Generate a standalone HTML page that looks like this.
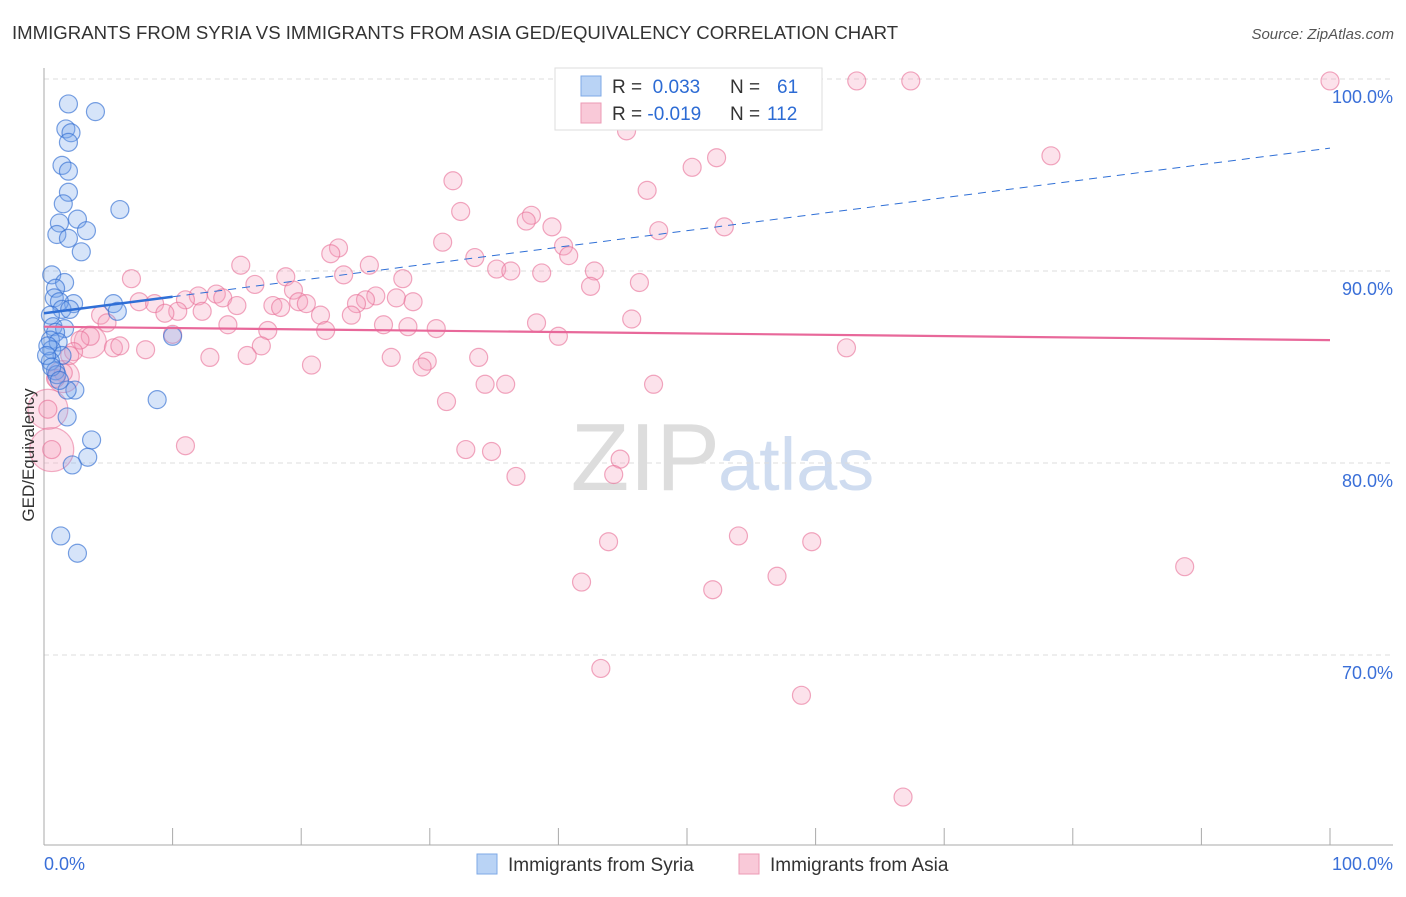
<!DOCTYPE html>
<html><head><meta charset="utf-8"><style>
body{margin:0;background:#fff;font-family:"Liberation Sans",sans-serif}
svg text{font-family:"Liberation Sans",sans-serif}
</style></head><body>
<svg id="c" width="1406" height="892" xmlns="http://www.w3.org/2000/svg">
<text x="12" y="39" font-size="18.6" fill="#333">IMMIGRANTS FROM SYRIA VS IMMIGRANTS FROM ASIA GED/EQUIVALENCY CORRELATION CHART</text>
<text x="1394" y="39" font-size="15" fill="#555" font-style="italic" text-anchor="end">Source: ZipAtlas.com</text>
<text x="720" y="490" font-size="96" fill="#ddd" text-anchor="end" font-family="Liberation Serif">ZIP</text>
<text x="718" y="490" font-size="74" fill="#cfdcf0">atlas</text>
<g id="grid"></g><g id="axes"></g><g id="trend"></g><g id="pts"></g>
<text transform="translate(34,455) rotate(-90)" font-size="17" fill="#333" text-anchor="middle">GED/Equivalency</text>
<text x="44" y="870" font-size="18" fill="#3a6fd8">0.0%</text>
<text x="1393" y="870" font-size="18" fill="#3a6fd8" text-anchor="end">100.0%</text>
<g>
<rect x="555" y="68" width="267" height="62" fill="#fff" stroke="#ddd"/>
<rect x="581" y="76" width="20" height="20" fill="#b9d3f5" stroke="#7ea8e6"/>
<rect x="581" y="103" width="20" height="20" fill="#f9c9d8" stroke="#ec9ab5"/>
<text x="612" y="93" font-size="19" fill="#333">R = <tspan fill="#2c6bd4">&#160;0.033</tspan><tspan x="730">N = </tspan><tspan fill="#2c6bd4" x="777">61</tspan></text>
<text x="612" y="120" font-size="19" fill="#333">R = <tspan fill="#2c6bd4">-0.019</tspan><tspan x="730">N = </tspan><tspan fill="#2c6bd4" x="767">112</tspan></text>
</g>
<g>
<rect x="477" y="854" width="20" height="20" fill="#b9d3f5" stroke="#7ea8e6"/>
<text x="508" y="871" font-size="19" fill="#333">Immigrants from Syria</text>
<rect x="739" y="854" width="20" height="20" fill="#f9c9d8" stroke="#ec9ab5"/>
<text x="770" y="871" font-size="19" fill="#333">Immigrants from Asia</text>
</g>
</svg>
<script>
const yTicks=[100,90,80,70];
const yTickLabels=["100.0%","90.0%","80.0%","70.0%"];
const xTicks=[0,10,20,30,40,50,60,70,80,90,100];
const syriaX=[1.9,4.0,1.7,2.1,1.9,1.4,1.9,1.9,1.5,5.9,2.6,1.2,3.3,1.0,1.9,2.9,0.6,1.6,0.9,0.8,2.3,1.2,5.4,1.4,2.0,5.7,0.5,0.7,1.6,0.9,0.5,1.1,0.6,1.4,0.5,0.9,1.0,2.4,1.8,8.8,1.8,10.0,3.7,3.4,2.2,1.3,2.6,0.3,0.2,0.6,1.2];
const syriaY=[98.7,98.3,97.4,97.2,96.7,95.5,95.2,94.1,93.5,93.2,92.7,92.5,92.1,91.9,91.7,91.0,89.8,89.4,89.1,88.6,88.3,88.4,88.3,88.0,88.0,87.9,87.7,87.1,87.0,86.8,86.4,86.3,85.9,85.6,85.3,84.8,84.6,83.8,83.8,83.3,82.4,86.6,81.2,80.3,79.9,76.2,75.3,86.1,85.6,85.0,84.3];
const asiaX=[100,63.2,67.4,55.5,45.3,52.3,78.3,50.4,31.8,46.9,32.4,37.9,37.5,39.5,52.9,47.8,31.0,22.9,40.4,22.3,40.8,33.5,15.3,25.3,35.2,36.3,38.7,42.8,23.3,6.8,18.8,27.9,46.3,42.5,16.4,19.4,12.0,13.4,13.9,25.8,27.4,25.0,24.3,28.7,7.4,8.6,11.0,19.8,20.4,17.8,18.4,15.0,10.4,9.4,12.3,21.5,23.9,4.4,4.9,45.7,38.3,14.3,26.4,28.3,30.5,17.4,21.9,10.0,40.0,3.6,2.8,5.4,5.9,16.9,62.4,7.9,2.3,2.0,12.9,15.8,27.0,33.8,29.8,20.8,29.4,1.5,0.9,34.3,35.9,47.4,31.3,0.3,11.0,32.8,34.8,44.8,36.7,44.3,0.6,43.9,54.0,59.7,88.7,41.8,57.0,52.0,43.3,58.9,66.8];
const asiaY=[99.9,99.9,99.9,98.6,97.3,95.9,96.0,95.4,94.7,94.2,93.1,92.9,92.6,92.3,92.3,92.1,91.5,91.2,91.3,90.9,90.8,90.7,90.3,90.3,90.1,90.0,89.9,90.0,89.8,89.6,89.7,89.6,89.4,89.2,89.3,89.0,88.7,88.8,88.6,88.7,88.6,88.5,88.3,88.4,88.4,88.3,88.5,88.4,88.3,88.2,88.1,88.2,87.9,87.8,87.9,87.7,87.7,87.7,87.3,87.5,87.3,87.2,87.2,87.1,87.0,86.9,86.9,86.7,86.6,86.6,86.4,86.0,86.1,86.1,86.0,85.9,85.8,85.6,85.5,85.6,85.5,85.5,85.3,85.1,85.0,84.7,84.4,84.1,84.1,84.1,83.2,82.8,80.9,80.7,80.6,80.2,79.3,79.4,80.7,75.9,76.2,75.9,74.6,73.8,74.1,73.4,69.3,67.9,62.6];
const asiaBigX=[0.6,0.3,3.6,1.5];
const asiaBigY=[80.7,82.8,86.3,84.5];
const asiaBigR=[22,20,16,16];
const syriaTrend=[87.8,0.086];
const asiaTrend=[87.1,-0.007];
const X0=44,X1=1330,YT=79,PX=19.2;
const sx=v=>X0+(X1-X0)*v/100;
const sy=v=>YT+(100-v)*PX;
const NS="http://www.w3.org/2000/svg";
function mk(tag,attrs,parent){const e=document.createElementNS(NS,tag);for(const k in attrs)e.setAttribute(k,attrs[k]);parent.appendChild(e);return e;}
const grid=document.getElementById('grid'),axes=document.getElementById('axes'),trend=document.getElementById('trend'),pts=document.getElementById('pts');
yTicks.forEach((t,i)=>{
 const l=mk('line',{x1:44,x2:1393,y1:sy(t),y2:sy(t),stroke:'#ddd','stroke-dasharray':'5,4'},grid);
 
 
 const tx=mk('text',{x:1393,y:sy(t)+24,'font-size':18,fill:'#3a6fd8','text-anchor':'end'},grid);
 tx.textContent=yTickLabels[i];
 
 
});
const ya=mk('line',{x1:44,x2:44,y1:68,y2:845,stroke:'#aaa'},axes);


const xa=mk('line',{x1:44,x2:1393,y1:845,y2:845,stroke:'#aaa'},axes);


xTicks.forEach(t=>{
 const l=mk('line',{x1:sx(t),x2:sx(t),y1:828,y2:845,stroke:'#aaa'},axes);
 
 
});
function dot(x,y,r,fill,stroke,name){
 const c=mk('circle',{cx:sx(x),cy:sy(y),r:r,fill:fill,stroke:stroke,'stroke-width':1.2},pts);
 
 
}
asiaBigX.forEach((x,i)=>dot(x,asiaBigY[i],asiaBigR[i],'rgba(244,160,188,0.3)','rgba(232,110,150,0.55)','asia-point'));
asiaX.forEach((x,i)=>dot(x,asiaY[i],9,'rgba(244,160,188,0.3)','rgba(232,110,150,0.6)','asia-point'));
syriaX.forEach((x,i)=>dot(x,syriaY[i],9,'rgba(120,165,235,0.3)','rgba(50,110,210,0.65)','syria-point'));
const fy=(t,x)=>t[0]+t[1]*x;
const t1=mk('line',{x1:sx(0),y1:sy(fy(syriaTrend,0)),x2:sx(10),y2:sy(fy(syriaTrend,10)),stroke:'#2f6fd6','stroke-width':2.5},trend);


const t2=mk('line',{x1:sx(10),y1:sy(fy(syriaTrend,10)),x2:sx(100),y2:sy(fy(syriaTrend,100)),stroke:'#2f6fd6','stroke-width':1,'stroke-dasharray':'8,6'},trend);


const t3=mk('line',{x1:sx(0),y1:sy(fy(asiaTrend,0)),x2:sx(100),y2:sy(fy(asiaTrend,100)),stroke:'#e8689a','stroke-width':2.2},trend);


document.getElementById('c').appendChild(trend);
</script>
</body></html>
